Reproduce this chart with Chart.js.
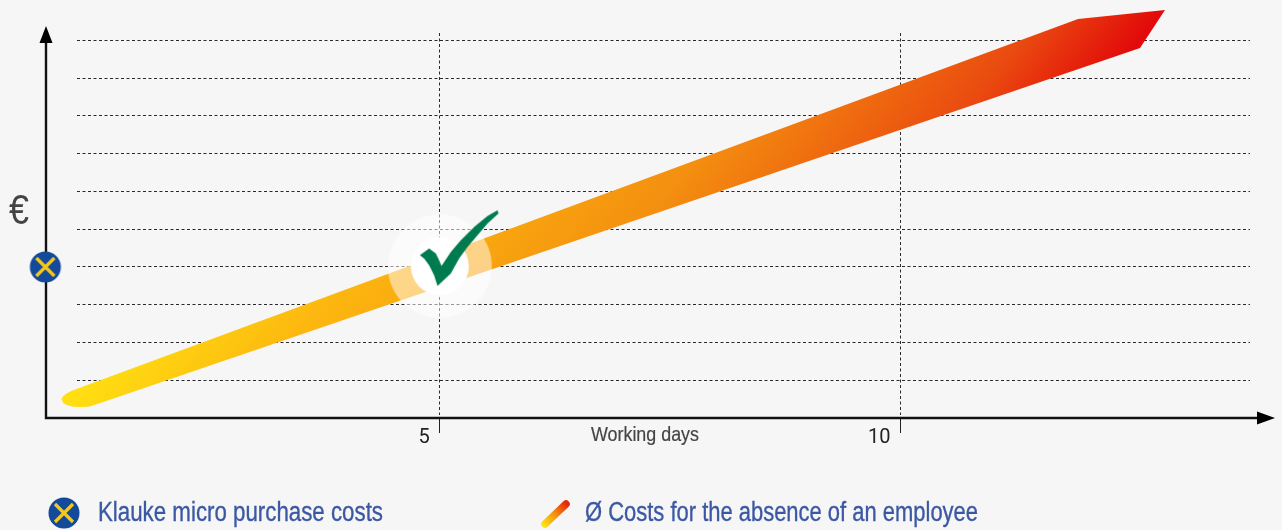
<!DOCTYPE html>
<html>
<head>
<meta charset="utf-8">
<style>
  html, body { margin: 0; padding: 0; background: #f6f6f6; }
  canvas { display: block; }
</style>
<script src="https://cdn.jsdelivr.net/npm/chart.js@4"></script>
</head>
<body>
<canvas id="chart" width="1282" height="530"></canvas>
<script>
// values: x in working days, y in grid steps of cost
const dayTicks = [5, 10];
const costGrid = [1, 2, 3, 4, 5, 6, 7, 8, 9, 10];
const bandDays = [0.897, 0.908, 0.944, 1.006, 11.925, 12.869, 12.598, 1.277, 1.186, 1.096, 1.023, 0.958, 0.915];
const bandCost = [0.495, 0.564, 0.644, 0.723, 10.57, 10.81, 9.80, 0.363, 0.299, 0.291, 0.299, 0.336, 0.389];
const purchaseDay = [0.72];
const purchaseCost = [4];
const breakEvenDay = [5];
const breakEvenCost = [4.02];

const yLabel = '€';
const xLabel = 'Working days';
const legendPurchase = 'Klauke micro purchase costs';
const legendAbsence = 'Ø Costs for the absence of an employee';

const fontName = '"Liberation Sans Narrow", "Liberation Sans", sans-serif';
const textBlue = '#3b58a3';
const textGrey = '#444';

const toPoints = (xs, ys) => xs.map((x, i) => ({ x, y: ys[i] }));

const makeCanvas = (size, draw) => {
  const c = document.createElement('canvas');
  c.width = size;
  c.height = size;
  const g = c.getContext('2d');
  g.translate(size / 2, size / 2);
  draw(g);
  return c;
};

const purchaseIcon = makeCanvas(34, (g) => {
  g.fillStyle = '#144a9a';
  g.beginPath();
  g.arc(0, 0, 15.5, 0, Math.PI * 2);
  g.fill();
  g.strokeStyle = '#f7c71a';
  g.lineWidth = 3.2;
  g.beginPath();
  g.moveTo(-9, -9);
  g.lineTo(9, 9);
  g.moveTo(9, -9);
  g.lineTo(-9, 9);
  g.stroke();
});

const checkOutline = [[-20, -11], [-10.7, -17.7], [-4, -12.7], [-0.7, -6], [1.7, -0.3], [11, -14.3], [21, -26], [34.3, -39.3], [47.7, -50.3], [57.7, -56], [58.7, -52.7], [47.7, -42.7], [37.7, -31], [27.7, -19.3], [19.3, -7.7], [11, 7.3], [-2.3, 19.7], [-5.7, 9], [-10.7, -1], [-15.7, -7.7]];

const checkIcon = makeCanvas(130, (g) => {
  g.fillStyle = 'rgba(255,255,255,0.5)';
  g.beginPath();
  g.arc(0, 0, 52, 0, Math.PI * 2);
  g.fill();
  g.fillStyle = '#fff';
  g.beginPath();
  g.arc(0, 0, 29, 0, Math.PI * 2);
  g.fill();
  g.fillStyle = '#007a4f';
  g.beginPath();
  checkOutline.forEach(([x, y]) => g.lineTo(x, y));
  g.closePath();
  g.fill();
});

const bandGradient = (c) => {
  const { ctx, chartArea } = c.chart;
  if (!chartArea) return '#f39a10';
  const grad = ctx.createLinearGradient(70, 400, 551, 782);
  grad.addColorStop(0, '#ffdf12');
  grad.addColorStop(0.22, '#fdb80f');
  grad.addColorStop(0.55, '#f4900f');
  grad.addColorStop(0.85, '#ea4a10');
  grad.addColorStop(1, '#e20a0a');
  return grad;
};

const text = (ctx, str, x, y, font, color, width, weight = 0) => {
  ctx.font = font;
  ctx.fillStyle = color;
  ctx.textAlign = 'left';
  ctx.textBaseline = 'middle';
  ctx.fillText(str, x, y, width);
  if (weight) {
    ctx.strokeStyle = color;
    ctx.lineWidth = weight;
    ctx.strokeText(str, x, y, width);
  }
};

// axes with arrow heads and the dashed grid, placed through the scales
const frame = {
  id: 'frame',
  beforeDatasetsDraw(chart) {
    const { ctx, scales: { x, y } } = chart;
    const axisX = 46;
    const axisY = Math.round(y.getPixelForValue(0));
    ctx.save();
    ctx.strokeStyle = '#2a2a2a';
    ctx.lineWidth = 1;
    ctx.setLineDash([3, 2.5]);
    costGrid.forEach((v) => {
      const py = Math.floor(y.getPixelForValue(v)) + 0.5;
      ctx.beginPath();
      ctx.moveTo(77, py);
      ctx.lineTo(1250, py);
      ctx.stroke();
    });
    dayTicks.forEach((v) => {
      const px = Math.floor(x.getPixelForValue(v)) + 0.5;
      ctx.beginPath();
      ctx.moveTo(px, 33);
      ctx.lineTo(px, axisY - 3);
      ctx.stroke();
    });
    ctx.setLineDash([]);
    ctx.strokeStyle = '#111';
    ctx.fillStyle = '#000';
    ctx.lineWidth = 2.4;
    ctx.beginPath();
    ctx.moveTo(axisX, 40);
    ctx.lineTo(axisX, axisY);
    ctx.lineTo(1260, axisY);
    ctx.stroke();
    ctx.beginPath();
    ctx.moveTo(axisX, 26);
    ctx.lineTo(axisX - 6.5, 43);
    ctx.lineTo(axisX + 6.5, 43);
    ctx.closePath();
    ctx.fill();
    ctx.beginPath();
    ctx.moveTo(1275, axisY);
    ctx.lineTo(1257, axisY - 6.5);
    ctx.lineTo(1257, axisY + 6.5);
    ctx.closePath();
    ctx.fill();
    ctx.restore();
  },
  afterDraw(chart) {
    const { ctx } = chart;
    ctx.save();
    text(ctx, yLabel, 9, 212, '43px "Liberation Sans", sans-serif', textGrey, 20);
    text(ctx, xLabel, 591, 435, `21px ${fontName}`, textGrey, 108, 0.2);
    ctx.drawImage(purchaseIcon, 47, 496);
    text(ctx, legendPurchase, 98, 513.5, `27px ${fontName}`, textBlue, 285, 0.35);
    const grad = ctx.createLinearGradient(544, 525, 567, 504);
    grad.addColorStop(0, '#ffdf12');
    grad.addColorStop(0.5, '#f4900f');
    grad.addColorStop(1, '#e42a0c');
    ctx.strokeStyle = grad;
    ctx.lineCap = 'round';
    ctx.lineWidth = 7.5;
    ctx.beginPath();
    ctx.moveTo(545, 524);
    ctx.lineTo(566, 504);
    ctx.stroke();
    text(ctx, legendAbsence, 585, 513.5, `27px ${fontName}`, textBlue, 393, 0.35);
    ctx.restore();
  }
};

new Chart(document.getElementById('chart'), {
  type: 'scatter',
  data: {
    datasets: [
      { data: toPoints(breakEvenDay, breakEvenCost), pointStyle: checkIcon, pointRadius: 30, clip: false },
      { data: toPoints(purchaseDay, purchaseCost), pointStyle: purchaseIcon, pointRadius: 16, clip: false },
      {
        data: toPoints(bandDays, bandCost),
        showLine: true,
        fill: 'shape',
        borderWidth: 0,
        pointRadius: 0,
        tension: 0,
        backgroundColor: bandGradient,
        clip: false
      }
    ]
  },
  options: {
    responsive: false,
    animation: false,
    events: [],
    layout: { autoPadding: false, padding: { left: 46, right: 10, top: 5, bottom: 0 } },
    plugins: { legend: { display: false }, tooltip: { enabled: false } },
    scales: {
      x: {
        type: 'linear',
        min: 0.727,
        max: 14.03,
        afterBuildTicks: (scale) => { scale.ticks = dayTicks.map((value) => ({ value })); },
        afterFit: (scale) => { scale.height = 112; },
        border: { display: false },
        grid: { drawOnChartArea: false, tickLength: 15, tickColor: '#222', tickWidth: 1 },
        ticks: {
          padding: -7,
          align: 'end',
          labelOffset: -10,
          maxRotation: 0,
          autoSkip: false,
          color: '#222',
          font: { family: 'Roboto', size: 20 }
        }
      },
      y: {
        type: 'linear',
        display: false,
        min: 0,
        max: 10.94
      }
    }
  },
  plugins: [frame]
});
</script>
</body>
</html>
